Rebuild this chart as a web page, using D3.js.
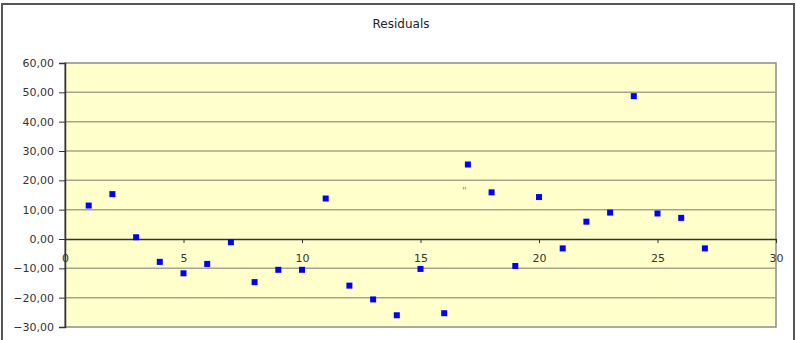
<!DOCTYPE html>
<html lang="en">
<head>
  <meta charset="UTF-8">
  <title>Residuals</title>
  <style>
    body { margin: 0; background: #ffffff; }
    svg { display: block; font-family: "DejaVu Sans", Verdana, sans-serif; }
  </style>
</head>
<body>
  <svg width="796" height="340"></svg>
  <script src="https://d3js.org/d3.v7.min.js"></script>
  <script>
    const title = "Residuals";
    const xValues = [1, 2, 3, 4, 5, 6, 7, 8, 9, 10, 11, 12, 13, 14, 15, 16, 17, 18, 19, 20, 21, 22, 23, 24, 25, 26, 27];
    const residuals = [11.4, 15.3, 0.6, -7.8, -11.7, -8.5, -1.1, -14.7, -10.5, -10.5, 13.8, -15.9, -20.6, -26.0, -10.2, -25.3,
      25.4, 15.9, -9.2, 14.3, -3.2, 5.9, 9.0, 48.7, 8.7, 7.2, -3.2];
    const xTicks = [0, 5, 10, 15, 20, 25, 30];
    const yTicks = [-30, -20, -10, 0, 10, 20, 30, 40, 50, 60];
    // stray label left in the plot area
    const noteX = [16.85];
    const noteY = [16.9];

    const svg = d3.select("svg");
    const plotLeft = 65, plotRight = 776, plotTop = 63, plotBottom = 327;
    const labelFont = "'DejaVu Sans', Verdana, sans-serif";

    const x = d3.scaleLinear().domain([0, 30]).range([plotLeft, plotRight]);
    const y = d3.scaleLinear().domain([-30, 60]).range([plotBottom, plotTop]);

    // chart border
    svg.append("rect")
      .attr("x", 2).attr("y", 4)
      .attr("width", 792).attr("height", 345)
      .attr("fill", "#fff")
      .attr("stroke", "#555").attr("stroke-width", 2);

    svg.append("text")
      .attr("x", 401).attr("y", 28)
      .attr("text-anchor", "middle")
      .style("font-size", "12px")
      .attr("fill", "#222")
      .text(title);

    // plot area
    svg.append("rect")
      .attr("x", plotLeft).attr("y", plotTop)
      .attr("width", plotRight - plotLeft).attr("height", plotBottom - plotTop)
      .attr("fill", "#ffffcc")
      .attr("stroke", "#8c8c8c").attr("stroke-width", 1.5);

    // gridlines
    svg.append("g")
      .selectAll("line")
      .data(yTicks.filter(d => d !== 0 && d !== -30 && d !== 60))
      .enter()
      .append("line")
      .attr("x1", plotLeft).attr("x2", plotRight)
      .attr("y1", d => y(d)).attr("y2", d => y(d))
      .attr("stroke", "#a6a48a").attr("stroke-width", 1.5);

    // y axis
    const yAxis = svg.append("g")
      .attr("transform", "translate(" + plotLeft + ",0)")
      .call(d3.axisLeft(y).tickValues(yTicks).tickSize(6).tickPadding(5)
        .tickFormat(d => d3.format(".2f")(d).replace(".", ",")));
    yAxis.select(".domain").attr("stroke", "#333").attr("stroke-width", 1.5);
    yAxis.selectAll(".tick line").attr("stroke", "#333");
    yAxis.selectAll("text").style("font-size", "11px").attr("fill", "#333")
      .style("font-family", labelFont);

    // x axis across zero
    const xAxis = svg.append("g")
      .attr("transform", "translate(0," + y(0) + ")")
      .call(d3.axisBottom(x).tickValues(xTicks).tickSize(4).tickPadding(11).tickSizeOuter(0));
    xAxis.select(".domain").attr("stroke", "#333").attr("stroke-width", 1.5);
    xAxis.selectAll(".tick line").attr("stroke", "#333");
    xAxis.selectAll("text").style("font-size", "11px").attr("fill", "#333")
      .style("font-family", labelFont);

    svg.append("g")
      .selectAll("text")
      .data(noteX)
      .enter()
      .append("text")
      .attr("x", d => x(d))
      .attr("y", (d, i) => y(noteY[i]))
      .attr("dy", "0.6em")
      .attr("text-anchor", "middle")
      .style("font-size", "8px")
      .attr("fill", "#666")
      .text("''");

    // markers
    svg.append("g")
      .selectAll("rect")
      .data(residuals)
      .enter()
      .append("rect")
      .attr("x", (d, i) => x(xValues[i]) - 3)
      .attr("y", d => y(d) - 3)
      .attr("width", 6).attr("height", 6)
      .attr("fill", "#0000ff");
  </script>
</body>
</html>
